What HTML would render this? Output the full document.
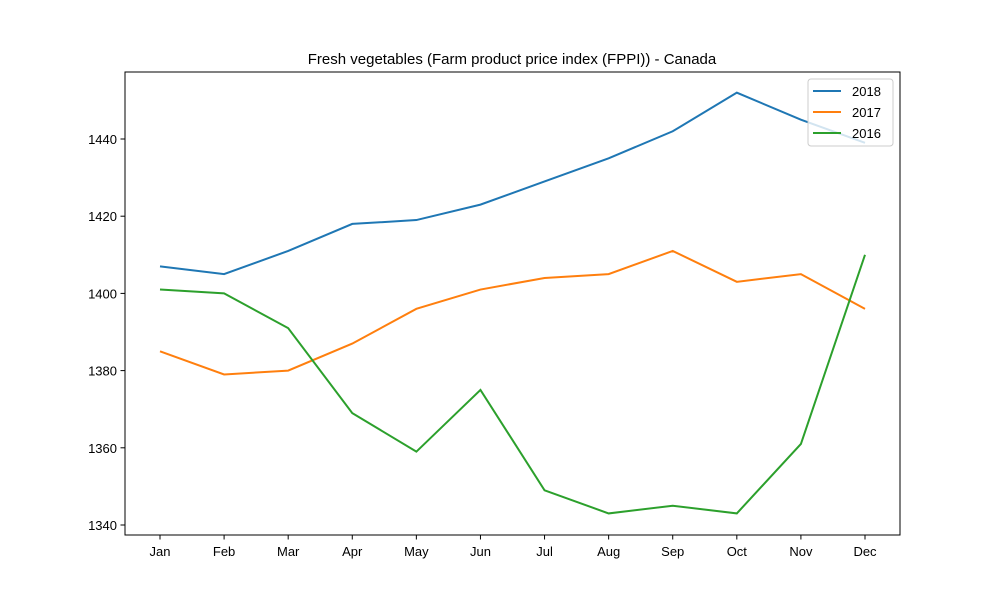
<!DOCTYPE html>
<html><head><meta charset="utf-8"><style>body{margin:0;background:#fff}svg{display:block;font-family:"Liberation Sans","DejaVu Sans",sans-serif}</style></head>
<body>
<svg id="chart" width="1000" height="600">
<rect width="1000" height="600" fill="#fff"/>
<text x="512" y="64" font-size="15" text-anchor="middle">Fresh vegetables (Farm product price index (FPPI)) - Canada</text>
<g id="axes"></g>
<g id="series"></g>
<rect x="125" y="72" width="775" height="463" fill="none" stroke="#000" stroke-width="1"/>
<g>
<rect x="808" y="79" width="85" height="67" rx="3" fill="#fff" fill-opacity="0.8" stroke="#ccc"/>
<g id="legend-items"></g>
</g>
</svg>
<script>
const months=["Jan","Feb","Mar","Apr","May","Jun","Jul","Aug","Sep","Oct","Nov","Dec"];
const yTicks=[1340,1360,1380,1400,1420,1440];
const seriesNames=["2018","2017","2016"];
const colors=["#1f77b4","#ff7f0e","#2ca02c"];
const v2018=[1407,1405,1411,1418,1419,1423,1429,1435,1442,1452,1445,1439];
const v2017=[1385,1379,1380,1387,1396,1401,1404,1405,1411,1403,1405,1396];
const v2016=[1401,1400,1391,1369,1359,1375,1349,1343,1345,1343,1361,1410];
const allSeries=[v2018,v2017,v2016];
const NS="http://www.w3.org/2000/svg";
const x=i=>160+i*(865-160)/11;
const y=v=>525-(v-1340)*3.86;
function mk(t,a,p){const e=document.createElementNS(NS,t);for(const k in a)e.setAttribute(k,a[k]);p.appendChild(e);return e;}
const ax=document.getElementById('axes');
months.forEach((m,i)=>{
 const l=mk('line',{x1:x(i),x2:x(i),y1:535,y2:539.5,stroke:'#000'},ax);
 
 
 const t=mk('text',{x:x(i),y:556,'font-size':13,'text-anchor':'middle'},ax);t.textContent=m;
 
 
});
yTicks.forEach(v=>{
 const l=mk('line',{x1:120.5,x2:125,y1:y(v),y2:y(v),stroke:'#000'},ax);
 
 
 const t=mk('text',{x:117,y:y(v)+5,'font-size':13,'text-anchor':'end'},ax);t.textContent=v;
 
 
});
const sg=document.getElementById('series');
allSeries.forEach((s,k)=>{
 const p=mk('polyline',{points:s.map((v,i)=>x(i)+','+y(v)).join(' '),fill:'none',stroke:colors[k],'stroke-width':2},sg);
 
 
});
const lg=document.getElementById('legend-items');
seriesNames.forEach((n,k)=>{
 const yy=91+k*21;
 const l=mk('line',{x1:813,x2:841,y1:yy,y2:yy,stroke:colors[k],'stroke-width':2},lg);
 
 
 const t=mk('text',{x:852,y:yy+5,'font-size':13},lg);t.textContent=n;
 
 
});
</script>
</body></html>
